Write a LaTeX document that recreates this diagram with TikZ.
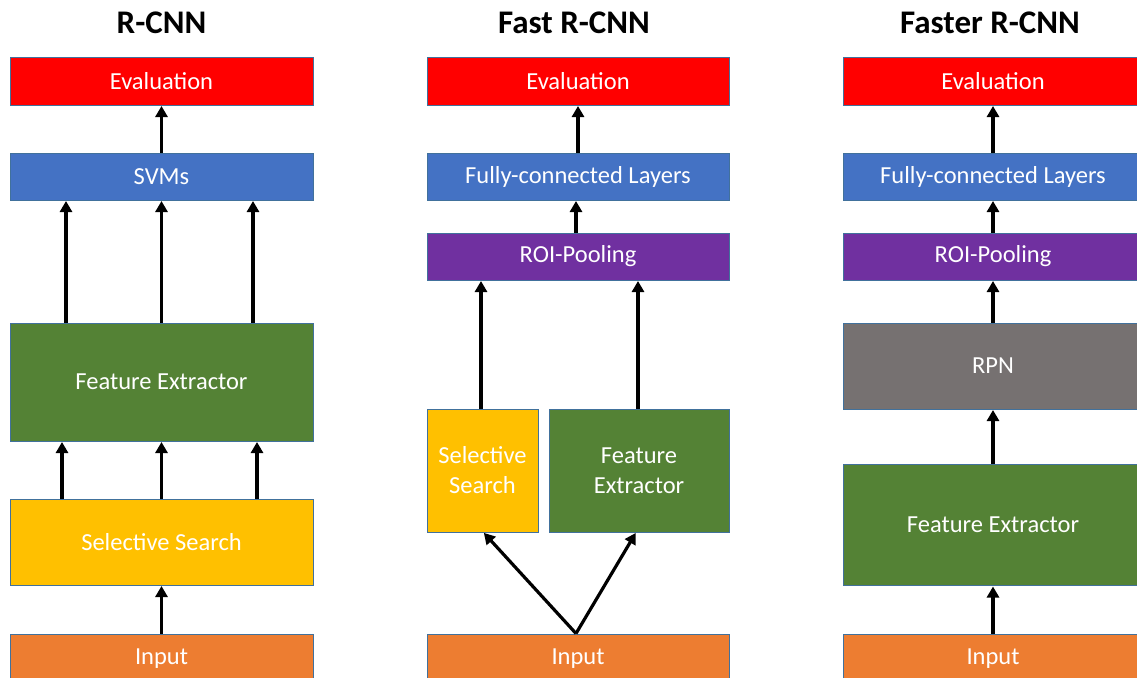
\documentclass[tikz,border=0pt]{standalone}
\usepackage{fontspec}
\setmainfont{Carlito}
\usetikzlibrary{arrows.meta}
\definecolor{cred}{HTML}{FF0000}
\definecolor{cblue}{HTML}{4472C4}
\definecolor{cgreen}{HTML}{548235}
\definecolor{cyellow}{HTML}{FFC000}
\definecolor{corange}{HTML}{ED7D31}
\definecolor{cpurple}{HTML}{7030A0}
\definecolor{cgray}{HTML}{767171}
\definecolor{cborder}{HTML}{41719C}
\begin{document}
\begin{tikzpicture}[x=1pt,y=-1pt,
  box/.style={draw=cborder,line width=1pt,inner sep=0pt,text=white,align=center,
    font=\fontsize{24.5}{30}\selectfont},
  ttl/.style={font=\fontsize{33}{36}\selectfont\bfseries,inner sep=0pt},
  arr/.style={line width=3.2pt,-{Triangle[width=12pt,length=11pt]},shorten >=0.5pt}]
\clip (0,0) rectangle (1137,677);
\useasboundingbox (0,0) rectangle (1137,677);
% titles
\node[ttl] (t1) at (161.5,23) {R-CNN};
\node[ttl] (t2) at (574,23) {Fast R-CNN};
\node[ttl] (t3) at (990,23) {Faster R-CNN};
% column 1
\node[box,fill=cred,minimum width=303pt,minimum height=47pt] (ev1) at (161.5,81.5) {Evaluation};
\node[box,fill=cblue,minimum width=303pt,minimum height=47pt] (svm) at (161.5,176.5) {SVMs};
\node[box,fill=cgreen,minimum width=303pt,minimum height=118pt] (fe1) at (161.5,382) {Feature Extractor};
\node[box,fill=cyellow,minimum width=303pt,minimum height=86pt] (ss1) at (161.5,542) {Selective Search};
\node[box,fill=corange,minimum width=303pt,minimum height=50pt] (in1) at (161.5,659) {Input};
\draw[arr] (svm.north) -- (ev1.south);
\draw[arr] ([xshift=-95.5pt]fe1.north) -- ([xshift=-95.5pt]svm.south);
\draw[arr] (fe1.north) -- (svm.south);
\draw[arr] ([xshift=91.5pt]fe1.north) -- ([xshift=91.5pt]svm.south);
\draw[arr] ([xshift=-99.5pt]ss1.north) -- ([xshift=-99.5pt]fe1.south);
\draw[arr] (ss1.north) -- (fe1.south);
\draw[arr] ([xshift=95.5pt]ss1.north) -- ([xshift=95.5pt]fe1.south);
\draw[arr] (in1.north) -- (ss1.south);
% column 2
\node[box,fill=cred,minimum width=302pt,minimum height=47pt] (ev2) at (578,81.5) {Evaluation};
\node[box,fill=cblue,minimum width=302pt,minimum height=47pt] (fc2) at (578,176.5) {Fully-connected Layers};
\node[box,fill=cpurple,minimum width=302pt,minimum height=47pt] (roi2) at (578,256.5) {ROI-Pooling};
\node[box,fill=cyellow,minimum width=111pt,minimum height=123pt] (ss2) at (482.5,470.5) {Selective\\Search};
\node[box,fill=cgreen,minimum width=180pt,minimum height=123pt] (fe2) at (639,470.5) {Feature\\Extractor};
\node[box,fill=corange,minimum width=302pt,minimum height=50pt] (in2) at (578,659) {Input};
\draw[arr] (fc2.north) -- (ev2.south);
\draw[arr] ([xshift=-2pt]roi2.north) -- ([xshift=-2pt]fc2.south);
\draw[arr] ([xshift=-1.5pt]ss2.north) -- ([xshift=-1.5pt]ss2.north |- roi2.south);
\draw[arr] ([xshift=-1pt]fe2.north) -- ([xshift=-1pt]fe2.north |- roi2.south);
\draw[arr] ([xshift=-2pt]in2.north) -- ([xshift=1pt]ss2.south);
\draw[arr] ([xshift=-2pt]in2.north) -- ([xshift=-3pt]fe2.south);
% column 3
\node[box,fill=cred,minimum width=300pt,minimum height=47pt] (ev3) at (993,81.5) {Evaluation};
\node[box,fill=cblue,minimum width=300pt,minimum height=47pt] (fc3) at (993,176.5) {Fully-connected Layers};
\node[box,fill=cpurple,minimum width=300pt,minimum height=47pt] (roi3) at (993,256.5) {ROI-Pooling};
\node[box,fill=cgray,minimum width=300pt,minimum height=86pt] (rpn) at (993,366) {RPN};
\node[box,fill=cgreen,minimum width=300pt,minimum height=121pt] (fe3) at (993,525) {Feature Extractor};
\node[box,fill=corange,minimum width=300pt,minimum height=50pt] (in3) at (993,659) {Input};
\draw[arr] (fc3.north) -- (ev3.south);
\draw[arr] (roi3.north) -- (fc3.south);
\draw[arr] (rpn.north) -- (roi3.south);
\draw[arr] (fe3.north) -- (rpn.south);
\draw[arr] (in3.north) -- (fe3.south);
\end{tikzpicture}
\end{document}
